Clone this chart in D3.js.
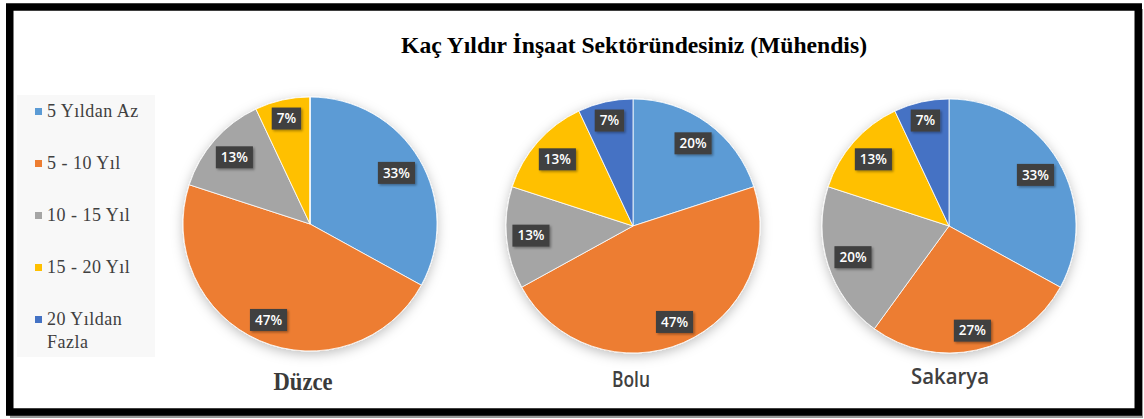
<!DOCTYPE html>
<html><head><meta charset="utf-8">
<script src="https://cdn.jsdelivr.net/npm/d3@7"></script>
<style>html,body{margin:0;padding:0;background:#fff;}svg{display:block;}</style>
</head><body>
<svg id="chart" width="1144" height="419"></svg>
<script>
const title = "Kaç Yıldır İnşaat Sektöründesiniz (Mühendis)";
const categories = ["5 Yıldan Az", "5 - 10 Yıl", "10 - 15 Yıl", "15 - 20 Yıl", "20 Yıldan Fazla"];
const regions = ["Düzce", "Bolu", "Sakarya"];
const duzceValues = [33, 47, 13, 7, 0];
const boluValues = [20, 47, 13, 13, 7];
const sakaryaValues = [33, 27, 20, 13, 7];
const colors = ["#5B9BD5", "#ED7D31", "#A5A5A5", "#FFC000", "#4472C4"];

const svg = d3.select("#chart");
const defs = svg.append("defs");
const pf = defs.append("filter").attr("id","pieShadow").attr("x","-20%").attr("y","-20%").attr("width","140%").attr("height","140%");
pf.append("feDropShadow").attr("dx",0).attr("dy",3).attr("stdDeviation",6).attr("flood-color","#000").attr("flood-opacity",0.25);
const lf = defs.append("filter").attr("id","lblShadow").attr("x","-30%").attr("y","-30%").attr("width","160%").attr("height","160%");
lf.append("feDropShadow").attr("dx",1.5).attr("dy",1.5).attr("stdDeviation",1.2).attr("flood-color","#000").attr("flood-opacity",0.35);

// frame shadow + frame
svg.append("rect").attr("x",10).attr("y",9).attr("width",1133).attr("height",409).attr("fill","#9a9a9a");
svg.append("rect").attr("x",9.75).attr("y",7).attr("width",1128.5).attr("height",405)
  .attr("fill","#fff").attr("stroke","#000").attr("stroke-width",7.5);

// title
svg.append("text").attr("x",634).attr("y",53).attr("text-anchor","middle")
  .attr("font-family","'Liberation Serif','Times New Roman',serif").attr("font-weight","bold")
  .attr("font-size",24).attr("fill","#000")
  .attr("textLength",466).attr("lengthAdjust","spacingAndGlyphs").text(title);

// legend
const lg = svg.append("g");
lg.append("rect").attr("x",17).attr("y",95).attr("width",138).attr("height",262).attr("fill","#f8f8f8");
const legendY = d3.scalePoint().domain(categories).range([117, 325]);
const legendFont = "'Liberation Serif','DejaVu Serif',serif";
categories.forEach((c,i)=>{
  const y = legendY(c);
  lg.append("rect").attr("x",35).attr("y",y-9).attr("width",7).attr("height",7).attr("fill",colors[i]);
  const t = lg.append("text").attr("x",47).attr("y",y)
    .attr("font-family",legendFont).attr("font-size",18).attr("letter-spacing",0.5).attr("fill","#404040");
  if (c === "20 Yıldan Fazla") {
    t.append("tspan").attr("x",47).text("20 Yıldan");
    t.append("tspan").attr("x",47).attr("dy",23).text("Fazla");
  } else t.text(c);
});

// pies
const pieData = [duzceValues, boluValues, sakaryaValues];
const centers = [[310,224],[633,226],[949,226]];
const R = 127;
const pie = d3.pie().sort(null).value(d=>d);
const arc = d3.arc().innerRadius(0).outerRadius(R);

pieData.forEach((vals, pi)=>{
  const [cx, cy] = centers[pi];
  const g = svg.append("g").attr("transform",`translate(${cx},${cy})`);
  const arcs = pie(vals);
  const sg = g.append("g").attr("filter","url(#pieShadow)");
  sg.selectAll("path").data(arcs).join("path")
    .attr("d",arc).attr("fill",(d,i)=>colors[i])
    .attr("stroke","#fff").attr("stroke-opacity",0.8).attr("stroke-width",1);

  arcs.forEach((a,i)=>{
    if (a.value <= 0) return;
    const mid = (a.startAngle + a.endAngle)/2;
    const lgG = g.append("g");
    const txt = lgG.append("text").attr("text-anchor","middle")
      .attr("font-family","'Open Sans','DejaVu Sans',sans-serif").attr("font-weight",600)
      .attr("font-size",13.5).attr("fill","#fff").text(a.value + "%");
    const w = txt.node().getComputedTextLength() + 10;
    const h = 22;
    const sx = Math.sin(mid), sy = -Math.cos(mid);
    const inset = (w/2)*Math.abs(sx) + (h/2)*Math.abs(sy) + 5;
    const d = R - inset;
    const x = sx*d, y = sy*d;
    lgG.insert("rect","text").attr("x",x-w/2).attr("y",y-h/2).attr("width",w).attr("height",h)
      .attr("fill","#404040").attr("filter","url(#lblShadow)");
    txt.attr("x",x).attr("y",y+4.8);
  });
});

// region labels
svg.append("text").attr("x",303).attr("y",390).attr("text-anchor","middle")
  .attr("font-family","'Liberation Serif','Times New Roman',serif").attr("font-weight","bold")
  .attr("font-size",26).attr("fill","#3a3a3a").attr("textLength",59).attr("lengthAdjust","spacingAndGlyphs")
  .text(regions[0]);
svg.append("text").attr("x",631).attr("y",387).attr("text-anchor","middle")
  .attr("font-family","'Open Sans','DejaVu Sans',sans-serif").attr("font-weight",600)
  .attr("font-size",21).attr("fill","#404040").attr("textLength",38).attr("lengthAdjust","spacingAndGlyphs")
  .text(regions[1]);
svg.append("text").attr("x",950).attr("y",384).attr("text-anchor","middle")
  .attr("font-family","'Open Sans','DejaVu Sans',sans-serif").attr("font-weight",600)
  .attr("font-size",21).attr("fill","#404040").attr("textLength",78).attr("lengthAdjust","spacingAndGlyphs")
  .text(regions[2]);
</script>
</body></html>
